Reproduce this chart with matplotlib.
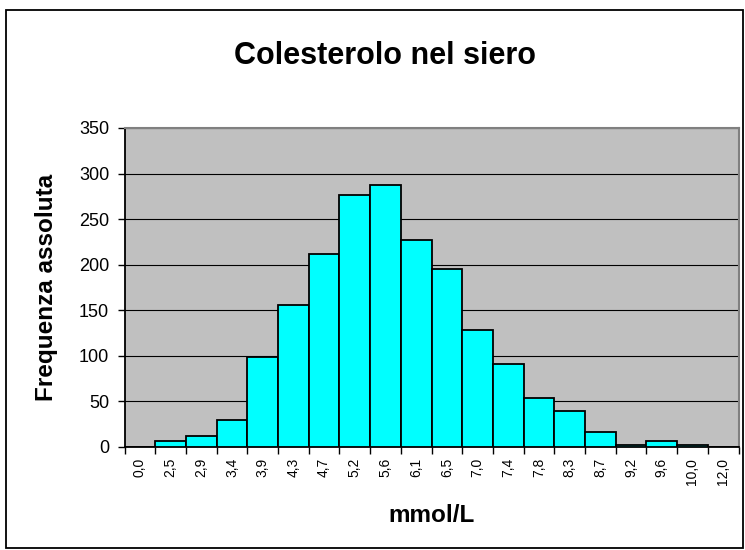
import matplotlib
matplotlib.use("Agg")
import matplotlib.pyplot as plt
from matplotlib.patches import Rectangle
import numpy as np

categories = ["0,0", "2,5", "2,9", "3,4", "3,9", "4,3", "4,7", "5,2", "5,6", "6,1",
              "6,5", "7,0", "7,4", "7,8", "8,3", "8,7", "9,2", "9,6", "10,0", "12,0"]
frequencies = [0, 6, 12, 29, 99, 156, 212, 276, 287, 227,
               195, 128, 91, 54, 39, 16, 2, 6, 2, 0]
y_ticks = [0, 50, 100, 150, 200, 250, 300, 350]

title = "Colesterolo nel siero"
xlabel = "mmol/L"
ylabel = "Frequenza assoluta"

plt.rcParams['font.family'] = ['Liberation Sans', 'DejaVu Sans']

W, H = 745, 550
fig = plt.figure(figsize=(W / 100, H / 100), dpi=100)
fig.patch.set_facecolor("white")

# outer chart border
fig.patches.append(Rectangle((6 / W, 1 - 548 / H), (743 - 6) / W, (548 - 10) / H,
                             transform=fig.transFigure, fill=False,
                             edgecolor="black", linewidth=1.3, zorder=0))

left, right, top, bottom = 124.5, 738.5, 128.0, 446.7
ax = fig.add_axes([left / W, 1 - bottom / H, (right - left) / W, (bottom - top) / H])
ax.set_facecolor("#C0C0C0")

x = np.arange(len(categories))
ax.bar(x, frequencies, width=1.0, color="#00FFFF", edgecolor="black",
       linewidth=1.3, zorder=3)

ax.set_xlim(-0.5, len(categories) - 0.5)
ax.set_ylim(0, 350)
ax.set_yticks(y_ticks)
ax.set_yticklabels([str(v) for v in y_ticks], fontsize=13)
ax.yaxis.grid(True, color="black", linewidth=0.8, zorder=1)
ax.set_axisbelow(True)

ax.set_xticks(x)
ax.set_xticklabels(categories, rotation=90, fontsize=10)
ax.set_xticks(np.arange(len(categories) + 1) - 0.5, minor=True)
ax.tick_params(axis="x", which="major", length=0, pad=8)
ax.tick_params(axis="x", which="minor", length=5, width=1, color="black", direction="out")
ax.tick_params(axis="y", which="major", length=5, width=1, color="black", direction="out", pad=6)

for side in ["top", "right"]:
    ax.spines[side].set_color("#808080")
    ax.spines[side].set_linewidth(1.5)
for side in ["left", "bottom"]:
    ax.spines[side].set_color("black")
    ax.spines[side].set_linewidth(1.3)

fig.text(384.5 / W, 1 - 56 / H, title, ha="center", va="center",
         fontsize=22, fontweight="bold")
fig.text(431 / W, 1 - 515 / H, xlabel, ha="center", va="center",
         fontsize=17.5, fontweight="bold")
fig.text(47 / W, 1 - 287 / H, ylabel, ha="center", va="center", rotation=90,
         fontsize=17.5, fontweight="bold")

fig.savefig("out.png", dpi=100)
